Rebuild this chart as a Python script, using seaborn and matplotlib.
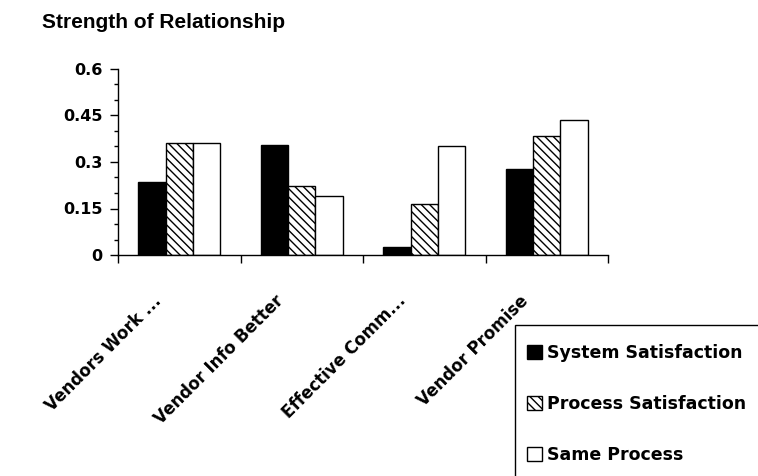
import matplotlib
matplotlib.use("Agg")
import matplotlib.pyplot as plt
import seaborn as sns
import pandas as pd
from matplotlib.patches import Patch, Rectangle
from matplotlib.ticker import MultipleLocator, FixedLocator
from matplotlib.transforms import ScaledTranslation

categories = ["Vendors Work ...", "Vendor Info Better", "Effective Comm...", "Vendor Promise"]
series = ["System Satisfaction", "Process Satisfaction", "Same Process"]
system_sat = [0.235, 0.355, 0.025, 0.279]
process_sat = [0.362, 0.224, 0.163, 0.383]
same_process = [0.362, 0.191, 0.352, 0.434]
y_ticks = [0, 0.15, 0.3, 0.45, 0.6]
y_tick_labels = ["0", "0.15", "0.3", "0.45", "0.6"]

rows = []
for s, vals in zip(series, [system_sat, process_sat, same_process]):
    for c, v in zip(categories, vals):
        rows.append({"Category": c, "Series": s, "Value": v})
df = pd.DataFrame(rows)

sns.set_theme(style="white")
plt.rcParams["font.family"] = ["Liberation Sans", "DejaVu Sans"]
for k in ["text.color", "xtick.color", "ytick.color", "axes.labelcolor"]:
    plt.rcParams[k] = "black"
plt.rcParams["hatch.linewidth"] = 1.0

wide = ["DejaVu Sans", "Liberation Sans"]

fig = plt.figure(figsize=(7.58, 4.76), dpi=100)
ax = fig.add_axes([118/758, 1-255/476, (608-118)/758, (255-69)/476])

palette = {"System Satisfaction": "black", "Process Satisfaction": "white", "Same Process": "white"}
sns.barplot(data=df, x="Category", y="Value", hue="Series", palette=palette,
            order=categories, hue_order=series, width=0.67, edgecolor="black",
            linewidth=1.0, ax=ax, legend=False, saturation=1)
for bar in ax.containers[1]:
    bar.set_hatch("\\\\\\\\")

ax.set_ylim(0, 0.6)
ax.set_xlim(-0.5, len(categories) - 0.5)
ax.set_yticks(y_ticks)
ax.set_yticklabels(y_tick_labels, fontweight="bold", fontsize=11.5, family=wide)
ax.yaxis.set_minor_locator(MultipleLocator(0.05))
ax.set_xticks(range(len(categories)))
ax.set_xticklabels(categories, rotation=45, ha="right", va="center", rotation_mode="anchor",
                   fontweight="bold", fontsize=12, family=wide)
ax.tick_params(axis="x", which="major", length=0, pad=0)
for lab in ax.get_xticklabels():
    lab.set_transform(lab.get_transform() + ScaledTranslation(-21/100, -43/100, fig.dpi_scale_trans))
ax.xaxis.set_minor_locator(FixedLocator([i - 0.5 for i in range(len(categories) + 1)]))
ax.tick_params(axis="x", which="minor", direction="out", length=6, width=1, color="black", bottom=True)
ax.tick_params(axis="y", which="major", direction="out", length=6, width=1, color="black", left=True, pad=5)
ax.tick_params(axis="y", which="minor", direction="out", length=3, width=1, color="black", left=True)
for side in ["top", "right"]:
    ax.spines[side].set_visible(False)
for side in ["left", "bottom"]:
    ax.spines[side].set_color("black")
    ax.spines[side].set_linewidth(1.0)
ax.set_xlabel("")
ax.set_ylabel("")

fig.text(42/758, 1-22/476, "Strength of Relationship", fontsize=15, fontweight="bold",
         va="center", ha="left", color="black")

# legend frame (extends past the figure edge, as in the reference)
fig.patches.append(Rectangle((515/758, -0.1), 0.5, (1-325/476) + 0.1,
                             transform=fig.transFigure, facecolor="white",
                             edgecolor="black", linewidth=1.0, zorder=1))

handles = [Patch(facecolor="black", edgecolor="black"),
           Patch(facecolor="white", edgecolor="black", hatch="\\\\\\\\"),
           Patch(facecolor="white", edgecolor="black")]
leg = fig.legend(handles, series, loc="upper left", bbox_to_anchor=(527/758, 1-344/476),
                 frameon=False, prop={"weight": "bold", "size": 12.5, "family": wide},
                 labelspacing=1.9, handlelength=0.85, handleheight=0.85, handletextpad=0.3,
                 borderpad=0, borderaxespad=0)
leg.set_zorder(2)

fig.savefig("out.png", dpi=100)
